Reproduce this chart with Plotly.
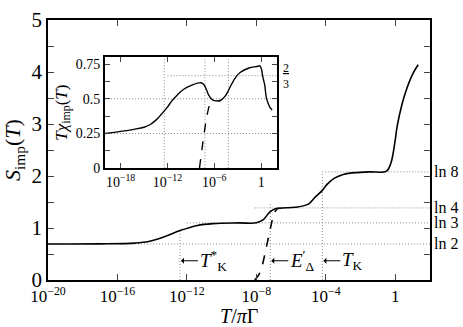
import numpy as np
import plotly.graph_objects as go

# main panel: impurity entropy, log10(T/piGamma) vs S_imp
s_logT = [-20, -17, -15, -14.2, -13.3, -12.4, -11.4, -10.5, -9, -8, -7.6, -7.25, -6.9, -6.5,
          -5.75, -5.0, -4.6, -4.24, -3.9, -3.5, -3.0, -2.5, -1.5, -0.5, -0.25, 0, 0.1, 0.38,
          0.66, 1.03, 1.32]
s_val = [0.693, 0.695, 0.71, 0.74, 0.83, 0.95, 1.05, 1.085, 1.098, 1.10, 1.16, 1.30, 1.37, 1.385,
         1.40, 1.46, 1.6, 1.71, 1.85, 1.96, 2.03, 2.06, 2.08, 2.095, 2.25, 2.7, 2.94, 3.37,
         3.68, 3.98, 4.14]
s_dash_logT = [-8.1, -7.9, -7.72, -7.44, -7.16, -6.97, -6.8]
s_dash_val = [0.0, 0.08, 0.21, 0.61, 1.04, 1.29, 1.37]

# inset: T*chi_imp
c_logT = [-20, -18, -16.3, -15, -14.2, -13.4, -12.75, -12, -11.5, -10.7, -10, -8.8, -7.7, -7.3,
          -7.0, -6.7, -6.3, -6.0, -5.2, -4.6, -4.2, -3.75, -3.2, -2.7, -1.65, -0.4, -0.17, 0.03,
          0.2, 0.45, 0.65, 0.87, 1.1, 1.4]
c_val = [0.25, 0.265, 0.28, 0.295, 0.315, 0.35, 0.39, 0.44, 0.48, 0.53, 0.565, 0.60, 0.616, 0.60,
         0.565, 0.525, 0.495, 0.487, 0.488, 0.52, 0.56, 0.61, 0.66, 0.69, 0.72, 0.735, 0.738, 0.715,
         0.66, 0.60, 0.51, 0.47, 0.44, 0.42]
c_dash_logT = [-7.9, -7.3, -6.9, -6.45]
c_dash_val = [0.0, 0.25, 0.39, 0.49]

# characteristic scales (log10) and plateau values
scale_logT = {"TKs": -12.4, "Ed": -7.2, "TK": -4.2}
plateaus = {"ln 2": np.log(2), "ln 3": np.log(3), "ln 4": np.log(4), "ln 8": np.log(8)}

main_ticks = [-20, -16, -12, -8, -4, 0]
main_ticktext = ["10<sup>−20</sup>", "10<sup>−16</sup>", "10<sup>−12</sup>", "10<sup>−8</sup>",
                 "10<sup>−4</sup>", "1"]
ins_ticks = [-18, -12, -6, 0]
ins_ticktext = ["10<sup>−18</sup>", "10<sup>−12</sup>", "10<sup>−6</sup>", "1"]

FONT = "Liberation Serif, Times New Roman, serif"
GRID = dict(color="#8a8a8a", width=1, dash="1px,2px")

def T(l):
    return [10.0 ** v for v in l]

fig = go.Figure()

# dotted guide lines, main panel
guides = [
    ([-20, 2], [plateaus["ln 2"]] * 2),
    ([-12, 2], [plateaus["ln 3"]] * 2),
    ([-8.1, 2], [plateaus["ln 4"]] * 2),
    ([scale_logT["TK"], 2], [plateaus["ln 8"]] * 2),
    ([scale_logT["TKs"]] * 2, [0, 0.95]),
    ([scale_logT["Ed"]] * 2, [0, 1.47]),
    ([scale_logT["TK"]] * 2, [0, plateaus["ln 8"]]),
]
for gx, gy in guides:
    fig.add_trace(go.Scatter(x=T(gx), y=gy, mode="lines", line=GRID, xaxis="x", yaxis="y",
                             showlegend=False, hoverinfo="skip"))

fig.add_trace(go.Scatter(x=T(s_logT), y=s_val, mode="lines", line=dict(color="black", width=1.6, shape="spline"),
                         xaxis="x", yaxis="y", showlegend=False))
fig.add_trace(go.Scatter(x=T(s_dash_logT), y=s_dash_val, mode="lines",
                         line=dict(color="black", width=1.6, dash="dash", shape="spline"),
                         xaxis="x", yaxis="y", showlegend=False))

# inset guides
ins_guides = [
    ([-20, 2], [0.25, 0.25]),
    ([-20, 2], [0.5, 0.5]),
    ([-12, 2], [2 / 3, 2 / 3]),
    ([scale_logT["TKs"]] * 2, [0, 0.8]),
    ([scale_logT["Ed"]] * 2, [0, 0.8]),
    ([scale_logT["TK"]] * 2, [0, 0.8]),
]
for gx, gy in ins_guides:
    fig.add_trace(go.Scatter(x=T(gx), y=gy, mode="lines", line=GRID, xaxis="x2", yaxis="y2",
                             showlegend=False, hoverinfo="skip"))

fig.add_trace(go.Scatter(x=T(c_logT), y=c_val, mode="lines", line=dict(color="black", width=1.4, shape="spline"),
                         xaxis="x2", yaxis="y2", showlegend=False))
fig.add_trace(go.Scatter(x=T(c_dash_logT), y=c_dash_val, mode="lines",
                         line=dict(color="black", width=1.4, dash="dash", shape="spline"),
                         xaxis="x2", yaxis="y2", showlegend=False))

annotations = []
for name, val in plateaus.items():
    annotations.append(dict(x=1.0, y=val, xref="paper", yref="y", text=name, showarrow=False,
                            xanchor="left", xshift=2, font=dict(size=16)))

labels = {"TKs": "<i>T</i><sup>*</sup><sub>K</sub>", "Ed": "<i>E</i><sup>′</sup><sub>Δ</sub>",
          "TK": "<i>T</i><sub>K</sub>"}
for key, txt in labels.items():
    annotations.append(dict(x=scale_logT[key], y=0.37, xref="x", yref="y", text=txt,
                            showarrow=True, ax=18, ay=0, xanchor="left", arrowhead=1,
                            arrowsize=1, arrowwidth=1, arrowcolor="black", standoff=1,
                            font=dict(size=19)))

annotations.append(dict(x=1.0, y=2 / 3, xref="x2 domain", yref="y2", text="<u>2</u><br>3",
                        showarrow=False, xanchor="left", xshift=4, font=dict(size=12)))

# x-axis title placed by hand
annotations.append(dict(x=0.5, y=0, xref="paper", yref="paper", text="<i>T</i>/<i>π</i>Γ",
                        showarrow=False, yanchor="top", yshift=-23, font=dict(size=20)))

fig.update_layout(
    width=463, height=327,
    margin=dict(l=41, r=33, t=8, b=47),
    plot_bgcolor="white", paper_bgcolor="white",
    font=dict(family=FONT, color="black"),
    annotations=annotations,
    xaxis=dict(type="log", range=[-20, 2], tickvals=T(main_ticks), ticktext=main_ticktext,
               ticks="inside", ticklen=6, mirror="ticks", showline=True, linecolor="black",
               linewidth=1.5, showgrid=False, zeroline=False,
               tickfont=dict(family=FONT, size=17)),
    yaxis=dict(range=[0, 5.001], tickvals=[0, 1, 2, 3, 4, 5], ticks="inside", ticklen=6,
               mirror="ticks", showline=True, linecolor="black", linewidth=1.5,
               showgrid=False, zeroline=False, tickfont=dict(family=FONT, size=21),
               ticklabeloverflow="allow",
               minor=dict(dtick=0.5, ticks="inside", ticklen=6, showgrid=False),
               title=dict(text="<i>S</i><sub>imp</sub>(<i>T</i>)", font=dict(family=FONT, size=22), standoff=8)),
    xaxis2=dict(type="log", range=[-20, 2], domain=[0.149, 0.599], anchor="y2",
                tickvals=T(ins_ticks), ticktext=ins_ticktext, ticks="inside", ticklen=5,
                mirror="ticks", showline=True, linecolor="black", linewidth=1.5,
                showgrid=False, zeroline=False, tickfont=dict(family=FONT, size=14)),
    yaxis2=dict(range=[0, 0.8], domain=[0.430, 0.857], anchor="x2",
                tickvals=[0, 0.25, 0.5, 0.75], ticktext=["0", "0.25", "0.5", "0.75"],
                ticks="inside", ticklen=5, mirror="ticks", showline=True, linecolor="black",
                linewidth=1.5, showgrid=False, zeroline=False, tickfont=dict(family=FONT, size=14),
                minor=dict(dtick=0.125, ticks="inside", ticklen=5, showgrid=False),
                title=dict(text="<i>T</i><i>χ</i><sub>imp</sub>(<i>T</i>)",
                           font=dict(family=FONT, size=17), standoff=4)),
)

fig.write_html("out.html", config={"displayModeBar": False},
               post_script="document.body.style.margin='0px';")
